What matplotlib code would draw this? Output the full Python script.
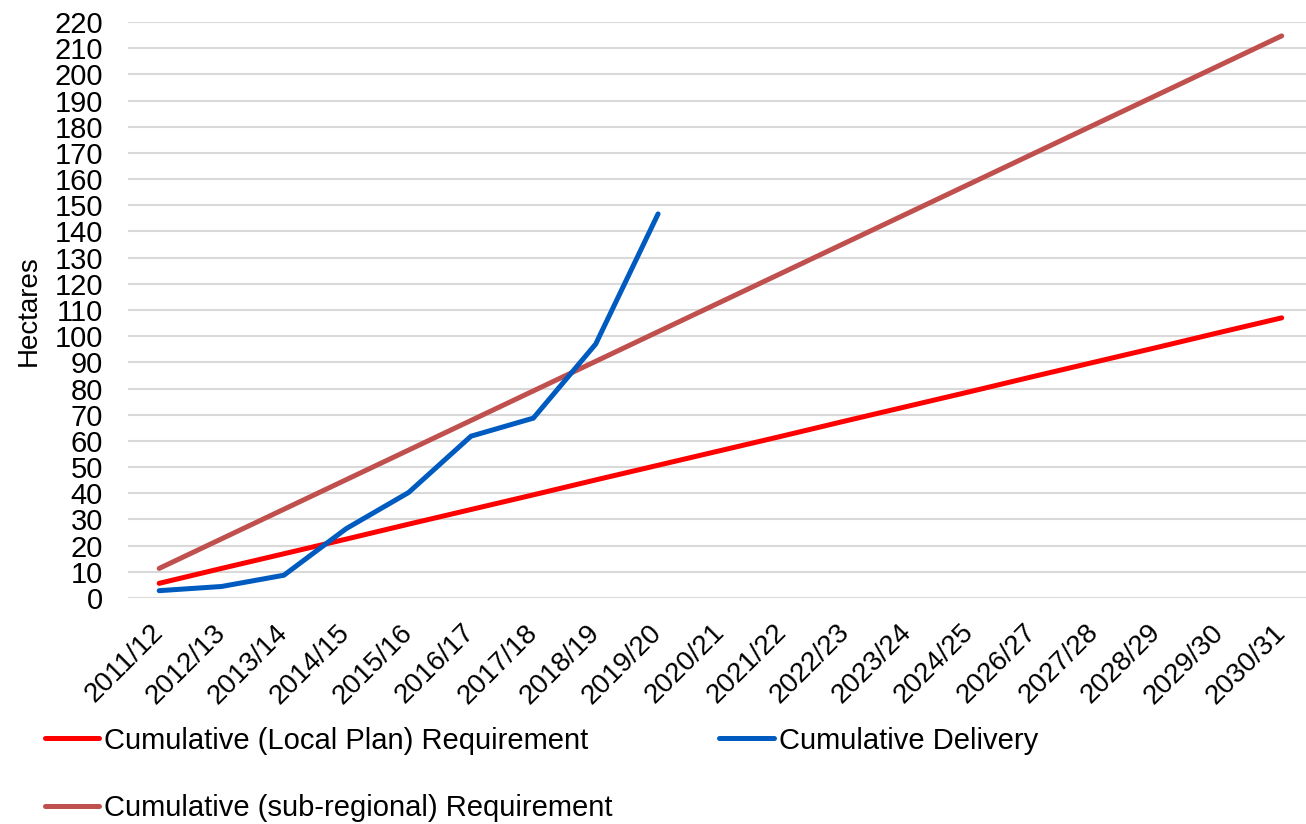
import matplotlib
matplotlib.use("Agg")
import matplotlib.pyplot as plt

plt.rcParams['font.family'] = ['Liberation Sans', 'DejaVu Sans']

years = ["2011/12", "2012/13", "2013/14", "2014/15", "2015/16", "2016/17", "2017/18",
         "2018/19", "2019/20", "2020/21", "2021/22", "2022/23", "2023/24", "2024/25",
         "2026/27", "2027/28", "2028/29", "2029/30", "2030/31"]
local_plan = [5.6, 11.3, 16.9, 22.5, 28.2, 33.8, 39.4, 45.1, 50.7, 56.3, 61.9, 67.6,
              73.2, 78.8, 84.5, 90.1, 95.7, 101.4, 107.0]
sub_regional = [11.3, 22.6, 33.9, 45.2, 56.5, 67.8, 79.1, 90.4, 101.7, 113.0, 124.3,
                135.6, 146.9, 158.2, 169.5, 180.8, 192.1, 203.4, 214.7]
delivery = [2.8, 4.4, 8.7, 26.5, 40.3, 61.8, 68.7, 97.0, 146.7]

c_local = "#FF0000"
c_sub = "#C0504D"
c_del = "#005BC0"

fig = plt.figure(figsize=(13.06, 8.24), dpi=100)
ax = fig.add_axes([128/1306, 1 - 598/824, 1 - 128/1306, (598 - 22)/824])

x = list(range(len(years)))
lw = 3.6
l1, = ax.plot(x, local_plan, color=c_local, lw=lw, solid_capstyle='round', zorder=3)
l3, = ax.plot(x, sub_regional, color=c_sub, lw=lw, solid_capstyle='round', zorder=3)
l2, = ax.plot(x[:len(delivery)], delivery, color=c_del, lw=lw, solid_capstyle='round',
              solid_joinstyle='miter', zorder=4)

ax.set_xlim(-0.5, 18.39)
ax.set_ylim(0, 220)
ax.set_yticks(range(0, 221, 10))
ax.tick_params(axis='y', labelsize=21, length=0, pad=18)
ax.set_xticks(x)
ax.set_xticklabels(years, rotation=45, ha='right', va='center', rotation_mode='anchor',
                   fontsize=20)
ax.tick_params(axis='x', length=0, pad=22)
ax.grid(axis='y', color='#D9D9D9', lw=1.5)
ax.set_axisbelow(True)
for s in ax.spines.values():
    s.set_visible(False)

fig.text(29/1306, 1 - 311/824, "Hectares", rotation=90, fontsize=20,
         ha='center', va='center')

leg = fig.legend([l1, l3, l2],
                 ["Cumulative (Local Plan) Requirement",
                  "Cumulative (sub-regional) Requirement",
                  "Cumulative Delivery"],
                 ncol=2, loc='upper left', bbox_to_anchor=(30/1306, 1 - 712/824),
                 frameon=False, fontsize=21, handlelength=1.88, handletextpad=0.17,
                 columnspacing=3.65, labelspacing=1.36, borderpad=0)

fig.savefig("out.png", dpi=100)
